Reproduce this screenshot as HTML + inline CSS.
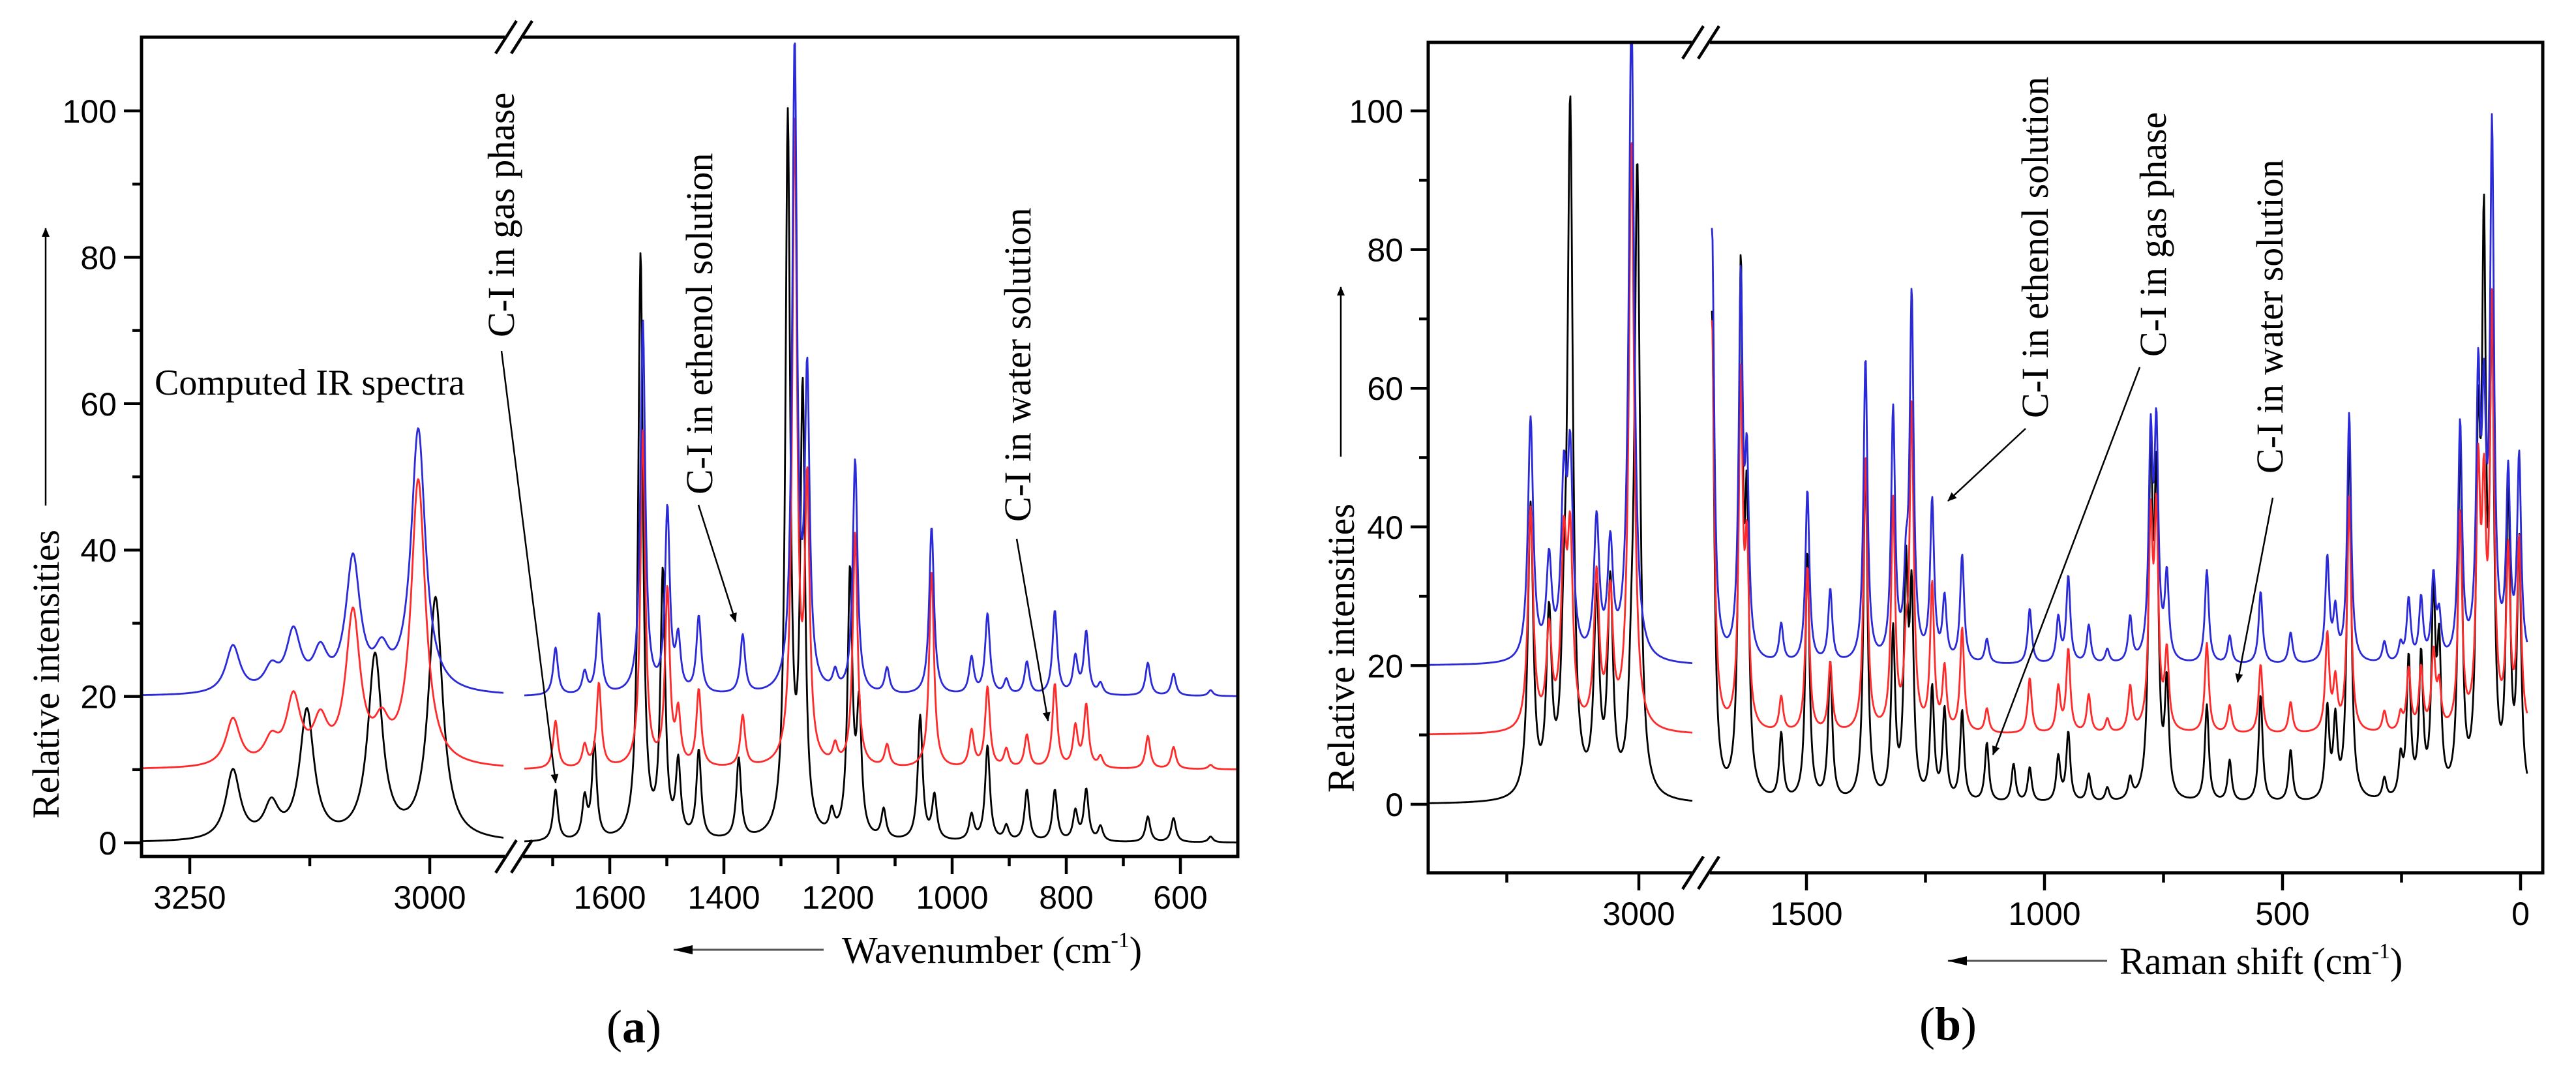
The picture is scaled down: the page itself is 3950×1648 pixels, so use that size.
<!DOCTYPE html>
<html><head><meta charset="utf-8">
<style>
html,body{margin:0;padding:0;background:#fff;}
svg{display:block;}
.tk{font-family:"Liberation Sans",Arial,sans-serif;font-size:50px;fill:#000;}
.sf{font-family:"Liberation Serif","Times New Roman",serif;fill:#000;}
</style></head>
<body>
<svg id="fig" width="3950" height="1648" viewBox="0 0 3950 1648" xmlns="http://www.w3.org/2000/svg">
<defs>
<marker id="ah" markerWidth="14" markerHeight="14" refX="13" refY="7" orient="auto" markerUnits="userSpaceOnUse" viewBox="0 0 14 14"><path d="M0,1 L14,7 L0,13 Z" fill="#000"/></marker>
<marker id="ahg" markerWidth="30" markerHeight="16" refX="29" refY="8" orient="auto" markerUnits="userSpaceOnUse"><path d="M0,1 L30,8 L0,15 Z" fill="#000"/></marker>
<clipPath id="clipA"><rect x="217" y="57" width="1681" height="1256"/></clipPath>
<clipPath id="clipB"><rect x="2190" y="65" width="1709" height="1273"/></clipPath>
</defs>
<g id="panelA"></g>
<g id="panelB"></g>

<text class="sf" x="237" y="605" font-size="56">Computed IR spectra</text>
<text class="sf" font-size="58" transform="translate(788,517) rotate(-90)">C-I in gas phase</text>
<line x1="769" y1="538" x2="852" y2="1200" stroke="#000" stroke-width="2.5" marker-end="url(#ah)"/>
<text class="sf" font-size="58" transform="translate(1092,758) rotate(-90)">C-I in ethenol solution</text>
<line x1="1071" y1="774" x2="1128" y2="953" stroke="#000" stroke-width="2.5" marker-end="url(#ah)"/>
<text class="sf" font-size="58" transform="translate(1580,800) rotate(-90)">C-I in water solution</text>
<line x1="1559" y1="826" x2="1607" y2="1105" stroke="#000" stroke-width="2.5" marker-end="url(#ah)"/>
<text class="sf" font-size="58" transform="translate(90,1255) rotate(-90)">Relative intensities</text>
<line x1="70" y1="775" x2="70" y2="350" stroke="#000" stroke-width="2.5" marker-end="url(#ah)"/>
<text class="sf" x="1291" y="1476" font-size="58">Wavenumber (cm<tspan dy="-24" font-size="34">-1</tspan><tspan dy="24">)</tspan></text>
<line x1="1263" y1="1456" x2="1033" y2="1456" stroke="#555" stroke-width="3" marker-end="url(#ahg)"/>
<text class="sf" x="972" y="1598" font-size="72" text-anchor="middle">(<tspan font-weight="bold">a</tspan>)</text>

<text class="sf" font-size="58" transform="translate(3140,641) rotate(-90)">C-I in ethenol solution</text>
<line x1="3106" y1="657" x2="2987" y2="768" stroke="#000" stroke-width="2.5" marker-end="url(#ah)"/>
<text class="sf" font-size="58" transform="translate(3321,547) rotate(-90)">C-I in gas phase</text>
<line x1="3281" y1="563" x2="3056" y2="1157" stroke="#000" stroke-width="2.5" marker-end="url(#ah)"/>
<text class="sf" font-size="58" transform="translate(3500,726) rotate(-90)">C-I in water solution</text>
<line x1="3485" y1="763" x2="3431" y2="1046" stroke="#000" stroke-width="2.5" marker-end="url(#ah)"/>
<text class="sf" font-size="58" transform="translate(2076,1215) rotate(-90)">Relative intensities</text>
<line x1="2056" y1="700" x2="2056" y2="440" stroke="#000" stroke-width="2.5" marker-end="url(#ah)"/>
<text class="sf" x="3250" y="1493" font-size="58">Raman shift (cm<tspan dy="-24" font-size="34">-1</tspan><tspan dy="24">)</tspan></text>
<line x1="3231" y1="1473" x2="2987" y2="1473" stroke="#555" stroke-width="3" marker-end="url(#ahg)"/>
<text class="sf" x="2987" y="1594" font-size="72" text-anchor="middle">(<tspan font-weight="bold">b</tspan>)</text>
</svg>

<script>
const irHighPos = [3205,3165,3142,3128,3114,3080,3057,3050,3012,2994];
const irHighGas = [9.5,4.5,0,17.5,0,0,25,0,0,33];
const irHighEth = [6.5,3,8,0,5,18,0,4.5,36,0];
const irHighWat = [6.5,3.2,9,0,5.5,20.5,0,4.5,39,0];
const irLowPos = [1695,1644,1627,1619,1546,1542,1507,1499,1480,1444,1374,1367,1288,1276,1262,1254,1211,1205,1179,1170,1163,1120,1114,1056,1036,1031,966,938,905,869,820,784,776,765,740,657,612,547];
const irLowGas = [7,5.5,13,0,80,0,36,0,10,12,11,0,98,0,60,0,3,0,36,0,17,4,0,17,0,6,3.5,13,2,7,7,4,0,7,2,3.5,3.3,0.8];
const irLowEth = [6.5,3,0,11,0,51,0,25,7,10.5,0,8,0,88,0,42,0,2.5,0,32,0,0,3.5,0,23,0,5,11,2,4.5,11.5,5,0,8.5,1.5,4.5,3,0.8];
const irLowWat = [6.5,3,0,11.5,0,46,0,24,7,10.5,0,7,0,88,0,37,0,2.5,0,32,0,0,3,0,27,0,5,11,2.5,4.5,11.5,5.5,0,8.5,1.5,4.5,3,0.6];
const rmHighPos = [3205,3170,3142,3130,3080,3054,3014,3003];
const rmHighGas = [42,25,15,98,28,30,10,90];
const rmHighEth = [35,14,24,28,20,16,94,0];
const rmHighWat = [32,14,25,26,22,19,85,0];
const rmLowPos = [1710,1698,1638,1625,1553,1498,1450,1376,1318,1291,1279,1236,1210,1173,1121,1065,1031,971,950,907,868,820,777,765,743,659,611,546,483,406,389,360,286,252,235,209,183,171,127,89,77,60,26,3];
const rmLowGas = [70,60,74,38,9.5,36,20,50,24,32,28,16,13,13,8.5,5.5,5,6.5,10,4,2,3,48,43,16,14,6,15.5,7.5,13,11,54,3,5.5,20,20,28,20,52,46,75,65,44,36];
const rmLowEth = [52,55,54,26,5.5,25,10.5,44,36,10,52,23,9,15.5,3.5,0,8,6.5,12.5,5.5,2,6.5,31,32,12,13.5,4,10.5,4.5,15,7,36,3,2.5,9,9,12,6,34,38,32,75,26,29];
const rmLowWat = [50,52,50,24,5,24,10,40,33,9,46,21,9,15,3.5,0,8,6.5,12,5.5,2,6.5,29,30,11,13,4,10,4.5,14,7,34,3,2.5,9,9,11,6,31,35,30,60,25,27];
const offsets = [0,10,20];
const yTicksMajor = [0,20,40,60,80,100];
const yTicksMinor = [10,30,50,70,90];
const aHighTicks = [3250,3000], aHighMinor = [3125];
const aLowTicks = [1600,1400,1200,1000,800,600], aLowMinor = [1700,1500,1300,1100,900,700,500];
const bHighTicks = [3000], bHighMinor = [3250];
const bLowTicks = [1500,1000,500,0], bLowMinor = [1250,750,250];

const NS = 'http://www.w3.org/2000/svg';
function mk(tag, attrs, parent){const e=document.createElementNS(NS,tag);for(const k in attrs)e.setAttribute(k,attrs[k]);parent.appendChild(e);return e;}
function spec(pos, h, w, x){let s=0;for(let i=0;i<pos.length;i++){if(!h[i])continue;const d=(x-pos[i])/w;s+=h[i]/(1+d*d);}return s;}

function drawPanel(g, P){
  const Y = v => P.y0 - v*P.ky;
  const clip = mk('g',{'clip-path':P.clip},g);
  P.sections.forEach(S=>{
    const X = wn => S.px0 + (S.wn0 - wn)*S.k;
    const series = [[S.gas,'#000'],[S.wat,'#ff2a2a'],[S.eth,'#2a2ad8']];
    series.forEach((ser,si)=>{
      let d='';
      for(let px=S.xa;px<=S.xb;px+=1){
        const wn = S.wn0 - (px - S.px0)/S.k;
        const v = offsets[si] + spec(S.pos, ser[0], S.w, wn);
        d += (px===S.xa?'M':'L')+px+','+Y(v).toFixed(1);
      }
      const p = mk('path',{d:d,fill:'none',stroke:ser[1],'stroke-width':2.8,'stroke-linejoin':'round'},clip);
      
      
    });
    S.ticks.forEach(t=>{
      mk('line',{x1:X(t),x2:X(t),y1:P.bottom,y2:P.bottom+27,stroke:'#000','stroke-width':4.5},g);
      const tx = mk('text',{x:X(t),y:P.bottom+80,'text-anchor':'middle',class:'tk'},g);
      tx.textContent = t;
      
      
    });
    S.minor.forEach(t=>{
      if(X(t) > P.right-2) return;
      mk('line',{x1:X(t),x2:X(t),y1:P.bottom,y2:P.bottom+15,stroke:'#000','stroke-width':4.5},g);
    });
  });
  const fr = {stroke:'#000','stroke-width':5,fill:'none'};
  mk('path',Object.assign({d:`M${P.brk[0]},${P.top} H${P.left} V${P.bottom} H${P.brk[0]} M${P.brk[1]},${P.top} H${P.right} V${P.bottom} H${P.brk[1]}`},fr),g);
  [P.top,P.bottom].forEach(yy=>{
    mk('line',{x1:P.brk[0]-14,y1:yy+25,x2:P.brk[0]+18,y2:yy-25,stroke:'#000','stroke-width':4.5},g);
    mk('line',{x1:P.brk[1]-18,y1:yy+25,x2:P.brk[1]+14,y2:yy-25,stroke:'#000','stroke-width':4.5},g);
  });
  yTicksMajor.forEach(v=>{
    mk('line',{x1:P.left-27,x2:P.left,y1:Y(v),y2:Y(v),stroke:'#000','stroke-width':4.5},g);
    const tx = mk('text',{x:P.left-38,y:Y(v)+18,'text-anchor':'end',class:'tk'},g);
    tx.textContent = v;
    
    
  });
  yTicksMinor.forEach(v=>{
    mk('line',{x1:P.left-14,x2:P.left,y1:Y(v),y2:Y(v),stroke:'#000','stroke-width':4.5},g);
  });
}

drawPanel(document.getElementById('panelA'),{
  left:217,right:1898,top:57,bottom:1313,y0:1292,ky:11.22,clip:'url(#clipA)',brk:[774,802],
  sections:[
    {px0:659,wn0:3000,k:1.472,xa:219,xb:772,w:9,pos:irHighPos,gas:irHighGas,eth:irHighEth,wat:irHighWat,ticks:aHighTicks,minor:aHighMinor},
    {px0:935,wn0:1600,k:0.875,xa:804,xb:1896,w:5,pos:irLowPos,gas:irLowGas,eth:irLowEth,wat:irLowWat,ticks:aLowTicks,minor:aLowMinor}
  ]
});
drawPanel(document.getElementById('panelB'),{
  left:2190,right:3899,top:65,bottom:1338,y0:1233,ky:10.63,clip:'url(#clipB)',brk:[2594,2622],
  sections:[
    {px0:2513,wn0:3000,k:0.81,xa:2192,xb:2595,w:6,pos:rmHighPos,gas:rmHighGas,eth:rmHighEth,wat:rmHighWat,ticks:bHighTicks,minor:bHighMinor},
    {px0:3865,wn0:0,k:0.73,xa:2625,xb:3875,w:5,pos:rmLowPos,gas:rmLowGas,eth:rmLowEth,wat:rmLowWat,ticks:bLowTicks,minor:bLowMinor}
  ]
});
</script>
</body></html>
